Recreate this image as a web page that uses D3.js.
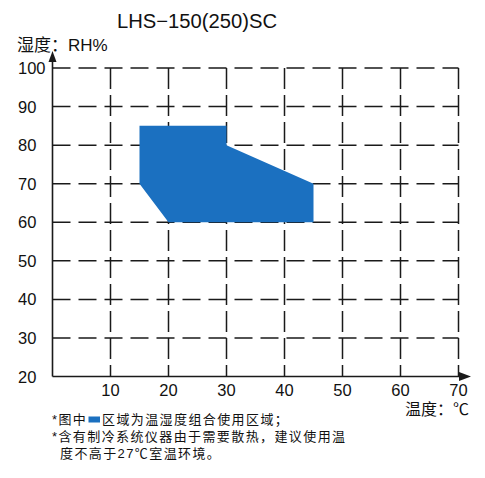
<!DOCTYPE html>
<html><head><meta charset="utf-8">
<script src="https://cdn.jsdelivr.net/npm/d3@7"></script>
<style>
html,body{margin:0;padding:0;background:#fff;}
text{font-family:"Liberation Sans","Noto Sans CJK SC",sans-serif;fill:#111;}
</style></head>
<body>
<svg id="c" width="485" height="478"></svg>
<script>
// ---- data ----
const title = "LHS\u2212150(250)SC";
const yLabel = "湿度：RH%";
const xLabel = "温度：℃";
const xTicks = [10, 20, 30, 40, 50, 60, 70];
const yTicks = [20, 30, 40, 50, 60, 70, 80, 90, 100];
// operating region polygon (temperature °C, humidity %RH)
const regionTemp = [15, 30, 30, 45, 45, 20, 15];
const regionRH   = [85, 85, 80, 70, 60, 60, 70];
const noteLine1a = "*图中";
const noteLine1b = "区域为温湿度组合使用区域；";
const noteLine2 = "*含有制冷系统仪器由于需要散热，建议使用温";
const noteLine3 = "度不高于27℃室温环境。";

const svg = d3.select("#c");
const x = d3.scaleLinear().domain([0, 70]).range([52.5, 458.5]);
const y = d3.scaleLinear().domain([20, 100]).range([376.5, 68]);
const blue = "#1b70c0";
const ink = "#1a1a1a";

// grid
const g = svg.append("g");
g.selectAll("line.h").data(yTicks.filter(d => d > 20)).join("line")
  .attr("x1", x(0)).attr("x2", x(70)).attr("y1", d => y(d)).attr("y2", d => y(d))
  .attr("stroke", ink).attr("stroke-width", 1.5).attr("stroke-dasharray", "18,8");
g.selectAll("line.v").data(xTicks).join("line")
  .attr("x1", d => x(d)).attr("x2", d => x(d)).attr("y1", y(100)).attr("y2", y(20))
  .attr("stroke", ink).attr("stroke-width", 1.5).attr("stroke-dasharray", "21,6");

// region
const pts = regionTemp.map((t, i) => [x(t), y(regionRH[i])]);
svg.append("path").attr("d", d3.line()(pts) + "Z").attr("fill", blue);

// axes
svg.append("line").attr("x1", x(0)).attr("x2", x(0)).attr("y1", y(20)).attr("y2", 60)
  .attr("stroke", ink).attr("stroke-width", 1.6);
svg.append("line").attr("x1", x(0)).attr("x2", 462).attr("y1", y(20)).attr("y2", y(20))
  .attr("stroke", ink).attr("stroke-width", 1.6);
svg.append("path").attr("d", `M${x(0)},51 L${x(0)-4},62 L${x(0)+4},62 Z`).attr("fill", ink);
svg.append("path").attr("d", `M471,${y(20)} L459,${y(20)-4.5} L459,${y(20)+4.5} Z`).attr("fill", ink);

// tick labels
svg.selectAll("text.yt").data(yTicks).join("text")
  .attr("x", 18).attr("y", d => y(d) + 6).attr("font-size", 16.5).text(d => d);
svg.selectAll("text.xt").data(xTicks).join("text")
  .attr("x", d => x(d)).attr("y", 396).attr("text-anchor", "middle").attr("font-size", 16.5).text(d => d);

// titles
svg.append("text").attr("x", 117).attr("y", 28).attr("font-size", 20)
  .attr("textLength", 160).attr("lengthAdjust", "spacingAndGlyphs").text(title);
svg.append("text").attr("x", 17).attr("y", 51).attr("font-size", 17).text(yLabel);
svg.append("text").attr("x", 469).attr("y", 415).attr("text-anchor", "end").attr("font-size", 16).text(xLabel);

// notes
const nfs = 13, ls = 1.4;
svg.append("text").attr("x", 52).attr("y", 424).attr("font-size", nfs).attr("letter-spacing", ls).text(noteLine1a);
svg.append("rect").attr("x", 88.5).attr("y", 416.5).attr("width", 11.5).attr("height", 6).attr("fill", blue);
svg.append("text").attr("x", 102).attr("y", 424).attr("font-size", nfs).attr("letter-spacing", ls).text(noteLine1b);
svg.append("text").attr("x", 52).attr("y", 441).attr("font-size", nfs).attr("letter-spacing", ls).text(noteLine2);
svg.append("text").attr("x", 60).attr("y", 458).attr("font-size", nfs).attr("letter-spacing", ls).text(noteLine3);
</script>
</body></html>
